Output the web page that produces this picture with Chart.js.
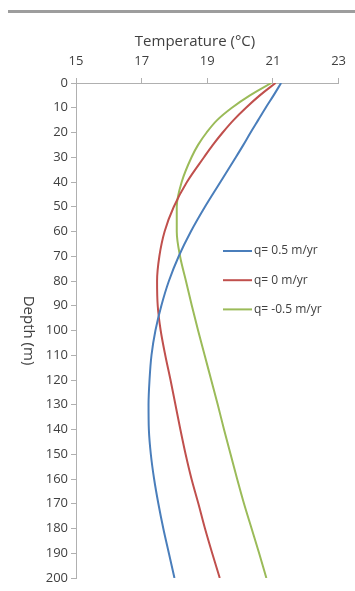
<!DOCTYPE html>
<html>
<head>
<meta charset="utf-8">
<script src="https://cdn.jsdelivr.net/npm/chart.js@4"></script>
<style>
    body { margin: 0; background: #fff; }
    #wrap { position: relative; width: 355px; height: 591px; }
    #topRule { position: absolute; left: 8px; right: 0; top: 10px; height: 3px; background: #9d9d9d; }
</style>
</head>
<body>
<div id="wrap">
    <div id="topRule"></div>
    <canvas id="chart" width="355" height="591"></canvas>
</div>
<script>
// depth below surface (m)
const depths = [0, 5, 10, 15, 20, 25, 30, 40, 50, 60, 70, 80, 90, 100,
                110, 120, 130, 140, 150, 160, 170, 180, 190, 200];

// temperature (C) for each flux
const tempUp = [21.25, 21.02, 20.78, 20.55, 20.32, 20.1, 19.87, 19.4, 18.93, 18.5, 18.13, 17.83, 17.6, 17.42,
                17.3, 17.24, 17.21, 17.22, 17.28, 17.38, 17.51, 17.66, 17.83, 18.0];
const tempNone = [21.08, 20.6, 20.18, 19.8, 19.47, 19.17, 18.9, 18.38, 17.98, 17.7, 17.54, 17.47, 17.49, 17.58,
                  17.72, 17.88, 18.03, 18.18, 18.34, 18.52, 18.73, 18.93, 19.15, 19.38];
const tempDown = [20.95, 20.3, 19.75, 19.3, 18.98, 18.72, 18.52, 18.22, 18.07, 18.07, 18.17, 18.35, 18.53, 18.72,
                  18.92, 19.12, 19.32, 19.51, 19.71, 19.91, 20.12, 20.35, 20.58, 20.8];

const seriesNames = ["q= 0.5 m/yr", "q= 0 m/yr", "q= -0.5 m/yr"];
const seriesColors = ["#4a7ebb", "#c0504d", "#9bbb59"];
const xTitle = "Temperature (\u00B0C)";
const yTitle = "Depth (m)";

function toPoints(temps) {
    return temps.map((t, i) => ({ x: t, y: depths[i] }));
}

const textColor = "#404040";
const axisColor = "#b0b0b0";

// axis titles and the legend box inside the plot
const extraText = {
    id: "extraText",
    afterDraw(chart) {
        const { ctx, chartArea: a } = chart;
        ctx.save();
        ctx.fillStyle = textColor;
        ctx.font = '15px "Open Sans"';
        ctx.textAlign = "center";
        ctx.textBaseline = "middle";
        ctx.fillText(xTitle, 195, 42);
        ctx.translate(28, (a.top + a.bottom) / 2);
        ctx.rotate(Math.PI / 2);
        ctx.fillText(yTitle, 0, 0);
        ctx.restore();

        ctx.save();
        ctx.font = '12px "Open Sans"';
        ctx.textAlign = "left";
        ctx.textBaseline = "middle";
        chart.data.datasets.forEach((ds, i) => {
            const y = 251 + i * 29.2;
            ctx.strokeStyle = ds.borderColor;
            ctx.lineWidth = 2;
            ctx.beginPath();
            ctx.moveTo(223, y);
            ctx.lineTo(252, y);
            ctx.stroke();
            ctx.fillStyle = textColor;
            ctx.fillText(ds.label, 254, y);
        });
        ctx.restore();
    }
};

const ctx = document.getElementById("chart").getContext("2d");
new Chart(ctx, {
    type: "scatter",
    data: {
        datasets: [tempUp, tempNone, tempDown].map((temps, i) => ({
            label: seriesNames[i],
            data: toPoints(temps),
            showLine: true,
            indexAxis: "y",
            borderColor: seriesColors[i],
            backgroundColor: seriesColors[i],
            borderWidth: 2,
            pointRadius: 0,
            cubicInterpolationMode: "monotone"
        }))
    },
    options: {
        indexAxis: "y",
        responsive: false,
        animation: false,
        layout: { padding: { top: 0, left: 0, right: 13, bottom: 13 } },
        plugins: {
            legend: { display: false },
            tooltip: { enabled: false }
        },
        scales: {
            x: {
                type: "linear",
                position: "top",
                min: 15,
                max: 23,
                ticks: { stepSize: 2, color: textColor, padding: 9, font: { family: "Open Sans", size: 13 } },
                grid: { drawOnChartArea: false, tickLength: 5, color: axisColor },
                border: { color: axisColor },
                afterFit(scale) { scale.height = 83; }
            },
            y: {
                type: "linear",
                position: "left",
                reverse: true,
                min: 0,
                max: 200,
                ticks: { stepSize: 10, color: textColor, padding: 3, font: { family: "Open Sans", size: 13 } },
                grid: { drawOnChartArea: false, tickLength: 5, color: axisColor },
                border: { color: axisColor },
                afterFit(scale) { scale.width = 76; }
            }
        }
    },
    plugins: [extraText]
});
</script>
</body>
</html>
